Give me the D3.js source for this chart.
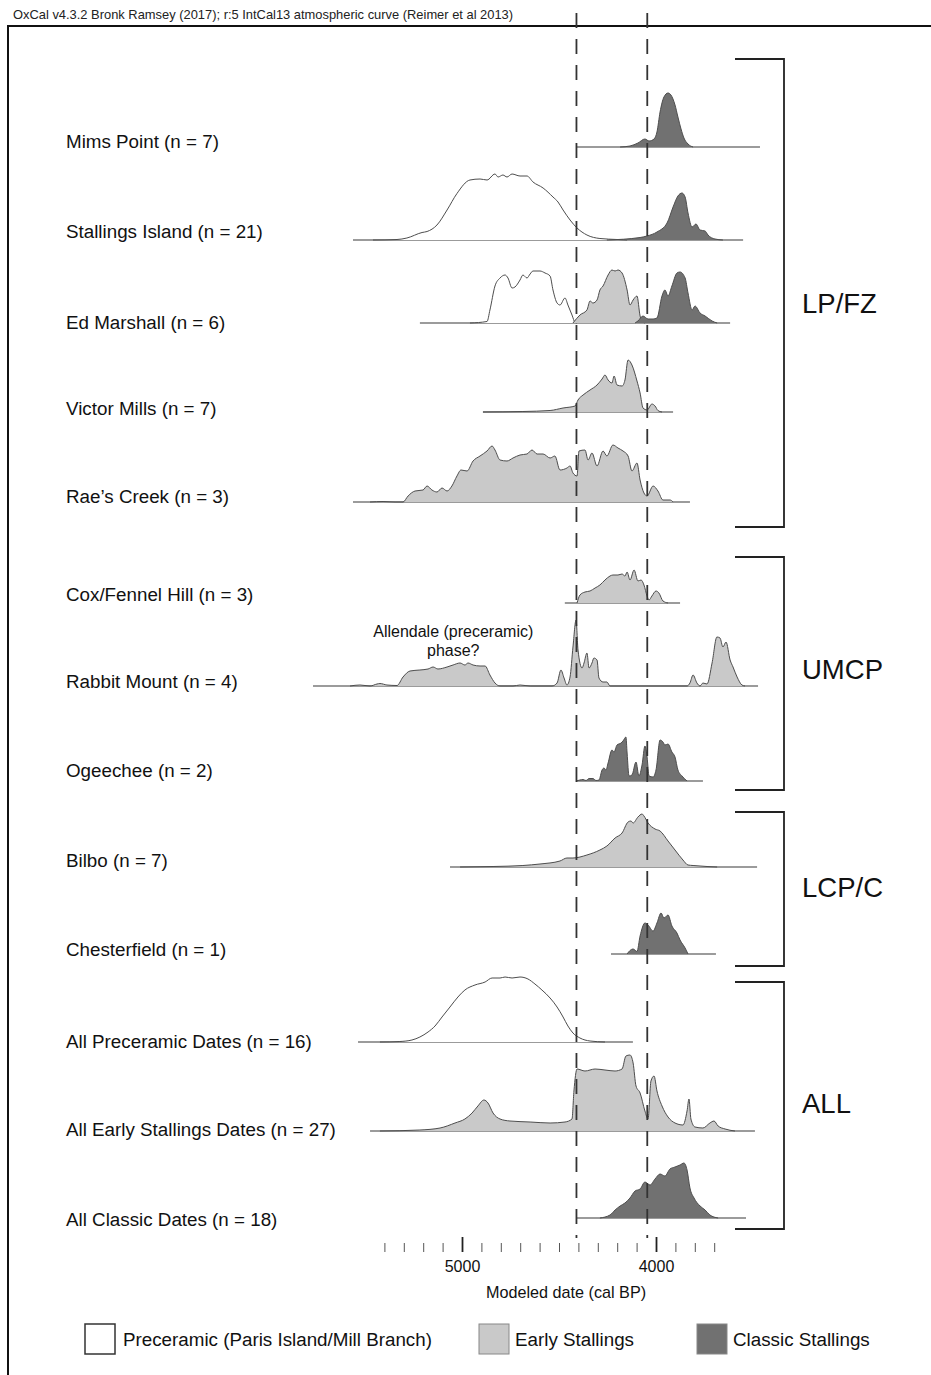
<!DOCTYPE html>
<html>
<head>
<meta charset="utf-8">
<script src="https://cdn.jsdelivr.net/npm/d3@7"></script>
<style>
body { margin: 0; background: #fff; }
svg { display: block; font-family: Arial, "Liberation Sans", sans-serif; }
</style>
</head>
<body>
<svg id="chart" width="931" height="1375"></svg>
<script>
// ---- data: each point is [cal BP, relative probability]

var rowLabels = [
	"Mims Point (n = 7)", "Stallings Island (n = 21)", "Ed Marshall (n = 6)",
	"Victor Mills (n = 7)", "Rae\u2019s Creek (n = 3)", "Cox/Fennel Hill (n = 3)",
	"Rabbit Mount (n = 4)", "Ogeechee (n = 2)", "Bilbo (n = 7)",
	"Chesterfield (n = 1)", "All Preceramic Dates (n = 16)",
	"All Early Stallings Dates (n = 27)", "All Classic Dates (n = 18)"
];

// extent of the baseline drawn under each distribution
var rowSpans = [
	[4412, 3464], [5562, 3551], [5217, 3618], [4892, 3912], [5562, 3825],
	[4470, 3876], [5768, 3474], [4412, 3758], [5062, 3479], [4232, 3691],
	[5536, 4119], [5474, 3490], [4412, 3536]
];

var mimsClassic = [[4185,0],[4134,2],[4093,8],[4057,16],[4036,12],[4010,16],[3995,30],[3979,70],
	[3959,100],[3938,108],[3923,104],[3902,84],[3887,60],[3871,36],[3856,18],[3835,6],[3809,0]];

var stallingsPre = [[5459,0],[5335,1],[5284,4],[5206,15],[5180,17],[5129,30],[5077,60],[5026,93],
	[4959,120],[4907,122],[4871,120],[4830,132],[4814,126],[4789,130],[4768,126],[4742,132],
	[4701,128],[4665,128],[4634,116],[4582,104],[4531,86],[4505,76],[4479,60],[4443,40],
	[4407,24],[4356,10],[4289,3],[4201,1],[4149,0]];
var stallingsClassic = [[4253,0],[4082,5],[4046,8],[3995,16],[3943,34],[3912,66],[3887,88],
	[3866,94],[3850,86],[3835,54],[3814,26],[3794,32],[3773,20],[3747,18],[3732,10],[3696,2],[3655,0]];

var edPre = [[4959,0],[4871,3],[4856,26],[4830,74],[4804,90],[4778,96],[4763,90],[4742,70],
	[4727,72],[4701,86],[4686,96],[4665,90],[4649,98],[4634,104],[4598,104],[4572,100],
	[4546,94],[4531,66],[4510,40],[4495,36],[4469,50],[4454,36],[4433,16],[4417,1],[4407,0]];
var edEarly = [[4428,0],[4392,16],[4356,26],[4340,44],[4325,40],[4304,46],[4289,66],[4273,74],
	[4247,96],[4227,106],[4211,104],[4196,106],[4175,100],[4149,66],[4134,36],[4118,46],
	[4098,54],[4082,14],[4072,3],[4057,0]];
var edClassic = [[4108,0],[4093,4],[4067,14],[4041,8],[4015,8],[3995,10],[3969,54],[3954,66],
	[3938,54],[3918,74],[3892,100],[3876,102],[3850,90],[3835,60],[3814,26],[3799,34],
	[3773,20],[3747,14],[3711,4],[3685,0]];

var victorEarly = [[4892,0],[4686,1],[4546,3],[4479,8],[4417,12],[4402,24],[4376,34],[4340,44],
	[4304,54],[4278,66],[4263,74],[4247,64],[4227,58],[4216,72],[4201,54],[4175,52],[4160,64],
	[4144,104],[4124,94],[4098,62],[4082,38],[4067,8],[4046,4],[4021,16],[4005,12],[3990,3],[3969,0]];

var raesEarly = [[5474,0],[5407,1],[5345,0],[5304,0],[5278,12],[5242,22],[5201,24],[5180,32],
	[5155,24],[5129,20],[5103,28],[5077,22],[5052,32],[5026,52],[5005,64],[4974,62],[4943,82],
	[4907,92],[4871,102],[4845,112],[4830,104],[4804,84],[4768,82],[4737,88],[4701,94],
	[4665,96],[4639,104],[4613,96],[4582,96],[4546,88],[4521,92],[4495,64],[4459,68],
	[4443,72],[4428,58],[4407,52],[4397,102],[4366,104],[4350,84],[4330,98],[4304,72],
	[4273,102],[4253,92],[4222,114],[4196,108],[4170,102],[4144,92],[4124,62],[4098,78],
	[4082,44],[4062,18],[4046,12],[4015,32],[3990,22],[3964,4],[3928,4],[3912,0]];

var coxEarly = [[4407,0],[4392,16],[4366,22],[4340,24],[4314,30],[4289,36],[4263,46],[4237,54],
	[4222,56],[4196,56],[4175,58],[4160,54],[4149,62],[4134,46],[4113,66],[4093,44],[4077,46],
	[4062,36],[4046,14],[4036,6],[4021,14],[4000,24],[3985,20],[3964,4],[3938,0]];

var rabbitEarly = [[5577,0],[5526,2],[5474,0],[5438,4],[5423,5],[5387,2],[5335,1],[5304,18],
	[5268,30],[5217,32],[5175,34],[5149,38],[5124,34],[5077,38],[5046,42],[5010,46],[4985,42],
	[4969,46],[4943,42],[4907,40],[4881,40],[4856,22],[4830,6],[4804,0],[4737,0],[4701,2],
	[4649,0],[4536,0],[4510,6],[4490,32],[4474,16],[4459,2],[4443,18],[4428,78],[4412,132],
	[4402,72],[4381,36],[4371,46],[4356,66],[4345,36],[4330,46],[4320,56],[4304,52],[4294,16],
	[4273,8],[4253,8],[4237,0],[3840,0],[3825,6],[3809,22],[3789,6],[3773,0],[3758,6],[3737,4],
	[3711,46],[3686,98],[3670,96],[3655,78],[3639,88],[3618,52],[3603,38],[3582,18],[3557,2],[3541,0]];

var ogeecheeClassic = [[4412,0],[4392,2],[4376,3],[4361,1],[4345,5],[4325,5],[4309,1],[4294,2],
	[4278,22],[4268,26],[4258,22],[4247,36],[4227,62],[4216,58],[4201,72],[4180,76],[4170,80],
	[4155,88],[4149,56],[4139,10],[4124,12],[4103,38],[4088,10],[4072,32],[4057,70],[4046,48],
	[4036,10],[4015,8],[4000,22],[3979,82],[3964,78],[3954,72],[3938,74],[3918,58],[3902,48],
	[3887,22],[3866,10],[3840,0]];

var bilboEarly = [[5010,0],[4840,1],[4686,3],[4598,6],[4495,12],[4459,18],[4428,18],[4356,24],
	[4289,34],[4253,42],[4211,58],[4175,68],[4144,90],[4129,92],[4118,88],[4093,100],[4072,106],
	[4062,102],[4041,88],[4005,76],[3979,72],[3938,52],[3902,34],[3861,14],[3835,4],[3809,3],
	[3737,1],[3685,0]];

var chesterfieldClassic = [[4149,0],[4134,7],[4118,10],[4098,5],[4082,36],[4057,62],[4041,58],
	[4015,46],[3995,62],[3974,82],[3959,72],[3938,78],[3918,56],[3892,42],[3876,28],[3850,12],[3835,0]];

var allPre = [[5423,0],[5320,1],[5258,4],[5217,10],[5175,20],[5139,32],[5103,50],[5062,70],
	[5021,90],[4985,104],[4933,114],[4881,120],[4845,128],[4804,128],[4778,130],[4742,128],
	[4701,130],[4660,126],[4624,116],[4588,104],[4546,88],[4510,70],[4479,50],[4454,32],
	[4428,18],[4392,8],[4340,2],[4263,0]];

var allEarly = [[5423,0],[5217,2],[5113,6],[5036,16],[4985,24],[4948,36],[4918,50],[4887,62],
	[4866,56],[4840,36],[4804,24],[4753,20],[4649,18],[4546,16],[4469,18],[4433,24],[4423,80],
	[4407,124],[4366,120],[4314,124],[4263,122],[4211,120],[4175,124],[4155,150],[4134,152],
	[4118,136],[4103,90],[4082,76],[4057,40],[4041,24],[4026,100],[4010,110],[3995,80],
	[3969,50],[3938,28],[3902,16],[3861,12],[3840,40],[3830,64],[3820,24],[3799,8],[3758,6],
	[3722,16],[3701,20],[3680,10],[3644,4],[3593,0]];

var allClassic = [[4289,0],[4237,6],[4211,16],[4185,24],[4160,30],[4134,40],[4108,54],[4082,58],
	[4057,72],[4031,66],[4005,78],[3979,88],[3954,84],[3928,98],[3902,102],[3876,106],
	[3856,110],[3840,96],[3825,60],[3804,40],[3773,24],[3747,16],[3722,6],[3680,0]];

var boundaryDates = [4410, 4045];
var tickYears = d3.range(5400, 3650, -100);
var majorYears = [5000, 4000];

var groupNames = ["LP/FZ", "UMCP", "LCP/C", "ALL"];
var phaseNames = ["Preceramic (Paris Island/Mill Branch)", "Early Stallings", "Classic Stallings"];

// ---- layout

var rowBase = [147, 240, 323, 412, 502, 603, 686, 781, 867, 954, 1042, 1131, 1218];
var labelY = [141, 231, 322, 408, 496, 594, 681, 770, 860, 949, 1041, 1129, 1219];
var bracketY = [[59, 527], [557, 790], [812, 966], [982, 1229]];
var bracketLabelY = [303, 669, 887, 1103];

var phaseFill = { pre: "#ffffff", early: "#c9c9c9", classic: "#717171" };
var phaseOrder = ["pre", "early", "classic"];

var rowSeries = [
	[["classic", mimsClassic]],
	[["pre", stallingsPre], ["classic", stallingsClassic]],
	[["pre", edPre], ["early", edEarly], ["classic", edClassic]],
	[["early", victorEarly]],
	[["early", raesEarly]],
	[["early", coxEarly]],
	[["early", rabbitEarly]],
	[["classic", ogeecheeClassic]],
	[["early", bilboEarly]],
	[["classic", chesterfieldClassic]],
	[["pre", allPre]],
	[["early", allEarly]],
	[["classic", allClassic]]
];

var rows = rowLabels.map(function (label, i) {
	return { label: label, span: rowSpans[i], base: rowBase[i], ly: labelY[i], series: rowSeries[i] };
});

var svg = d3.select("#chart");

var x = d3.scaleLinear().domain([5000, 4000]).range([462, 656]);
var h = d3.scaleLinear().domain([0, 100]).range([0, 50]);

// header + frame
svg.append("text")
	.attr("x", 13).attr("y", 19)
	.attr("font-size", 12.9)
	.attr("fill", "#222")
	.text("OxCal v4.3.2 Bronk Ramsey (2017); r:5 IntCal13 atmospheric curve (Reimer et al 2013)");

svg.append("path")
	.attr("d", "M8,1375 L8,26 L931,26")
	.attr("fill", "none")
	.attr("stroke", "#111")
	.attr("stroke-width", 2);

var area = d3.area()
	.x(function (d) { return x(d[0]); })
	.y0(0)
	.y1(function (d) { return -h(d[1]); })
	.curve(d3.curveMonotoneX);

var line = d3.line()
	.x(function (d) { return x(d[0]); })
	.y(function (d) { return -h(d[1]); })
	.curve(d3.curveMonotoneX);

var rowG = svg.append("g").attr("class", "rows")
	.selectAll("g")
	.data(rows)
	.enter().append("g")
	.attr("transform", function (d) { return "translate(0," + d.base + ")"; });

rowG.append("line")
	.attr("x1", function (d) { return x(d.span[0]); })
	.attr("x2", function (d) { return x(d.span[1]); })
	.attr("y1", 0).attr("y2", 0)
	.attr("stroke", "#7a7a7a")
	.attr("stroke-width", 1.5);

rowG.each(function (d) {
	var g = d3.select(this);
	var sorted = d.series.slice().sort(function (a, b) {
		return phaseOrder.indexOf(a[0]) - phaseOrder.indexOf(b[0]);
	});
	sorted.forEach(function (s) {
		g.append("path")
			.attr("d", area(s[1]))
			.attr("fill", phaseFill[s[0]]);
		g.append("path")
			.attr("d", line(s[1]))
			.attr("fill", "none")
			.attr("stroke", "#4d4d4d")
			.attr("stroke-width", 1);
	});
});

svg.append("g").attr("class", "rowlabels")
	.selectAll("text")
	.data(rows)
	.enter().append("text")
	.attr("x", 66)
	.attr("y", function (d) { return d.ly; })
	.attr("dy", "0.35em")
	.attr("font-size", 18.8)
	.attr("fill", "#111")
	.text(function (d) { return d.label; });

// Allendale note
svg.append("text")
	.attr("x", x(5045)).attr("y", 631).attr("dy", "0.35em")
	.attr("text-anchor", "middle").attr("font-size", 16).attr("fill", "#111")
	.text("Allendale (preceramic)");
svg.append("text")
	.attr("x", x(5045)).attr("y", 650).attr("dy", "0.35em")
	.attr("text-anchor", "middle").attr("font-size", 16).attr("fill", "#111")
	.text("phase?");

// boundary dashes
svg.append("g").attr("class", "boundaries")
	.selectAll("line")
	.data(boundaryDates)
	.enter().append("line")
	.attr("x1", function (d) { return x(d); })
	.attr("x2", function (d) { return x(d); })
	.attr("y1", 13).attr("y2", 1238)
	.attr("stroke", "#333")
	.attr("stroke-width", 1.8)
	.attr("stroke-dasharray", "15 11");

// axis
var minorAxis = d3.axisBottom(x).tickValues(tickYears).tickSize(9).tickFormat("");
var majorAxis = d3.axisBottom(x).tickValues(majorYears).tickSize(15).tickPadding(9)
	.tickFormat(d3.format("d"));

var gMinor = svg.append("g").attr("transform", "translate(0,1243)").call(minorAxis);
gMinor.select(".domain").remove();
gMinor.selectAll(".tick line").attr("stroke", "#555").attr("stroke-width", 1);

var gMajor = svg.append("g").attr("transform", "translate(0,1237)").call(majorAxis);
gMajor.select(".domain").remove();
gMajor.selectAll(".tick line").attr("stroke", "#222").attr("stroke-width", 1.8);
gMajor.selectAll(".tick text")
	.attr("font-size", 16)
	.attr("font-family", "Arial, 'Liberation Sans', sans-serif")
	.attr("fill", "#111");

svg.append("text")
	.attr("x", 566).attr("y", 1292).attr("dy", "0.35em")
	.attr("text-anchor", "middle").attr("font-size", 16.2).attr("fill", "#111")
	.text("Modeled date (cal BP)");

// group brackets
var brG = svg.append("g").attr("class", "brackets")
	.selectAll("g")
	.data(groupNames)
	.enter().append("g");

brG.append("path")
	.attr("d", function (d, i) {
		var b = bracketY[i];
		return "M735," + b[0] + " L784," + b[0] + " L784," + b[1] + " L735," + b[1];
	})
	.attr("fill", "none")
	.attr("stroke", "#222")
	.attr("stroke-width", 1.8);

brG.append("text")
	.attr("x", 802)
	.attr("y", function (d, i) { return bracketLabelY[i]; })
	.attr("dy", "0.35em")
	.attr("font-size", 27.5)
	.attr("fill", "#111")
	.text(function (d) { return d; });

// legend
var legendX = [85, 479, 697];
var legG = svg.append("g").attr("class", "legend")
	.selectAll("g")
	.data(phaseNames)
	.enter().append("g")
	.attr("transform", function (d, i) { return "translate(" + legendX[i] + ",1324)"; });

legG.append("rect")
	.attr("width", 30).attr("height", 30)
	.attr("fill", function (d, i) { return phaseFill[phaseOrder[i]]; })
	.attr("stroke", function (d, i) { return i == 0 ? "#333" : "#888"; })
	.attr("stroke-width", function (d, i) { return i == 0 ? 1.5 : 1; });

legG.append("text")
	.attr("x", function (d, i) { return i == 0 ? 38 : 36; })
	.attr("y", 15)
	.attr("dy", "0.35em")
	.attr("font-size", 18.8)
	.attr("fill", "#111")
	.text(function (d) { return d; });
</script>
</body>
</html>
